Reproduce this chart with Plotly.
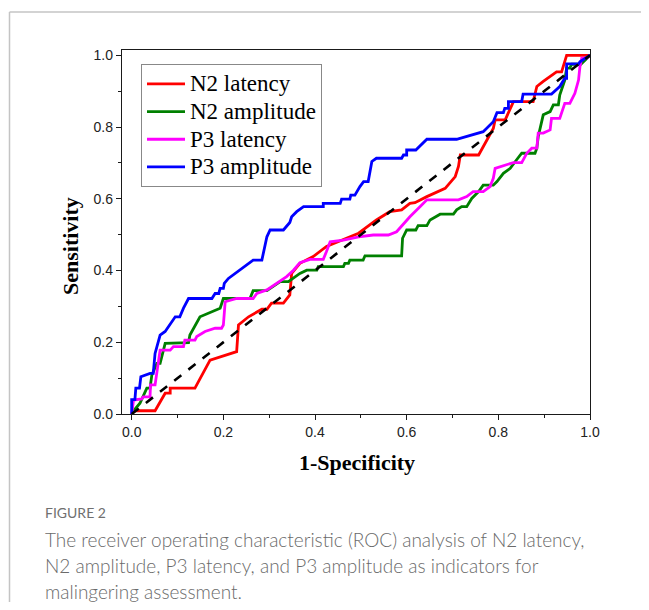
import plotly.graph_objects as go

# ---------------- data ----------------
n2_lat_x = [0, 0.007, 0.051, 0.062, 0.073, 0.084, 0.084, 0.138, 0.167, 0.171, 0.229, 0.233, 0.255, 0.284, 0.295,
            0.305, 0.331, 0.345, 0.349, 0.367, 0.396, 0.425, 0.495, 0.534, 0.563, 0.589, 0.607, 0.618, 0.644,
            0.684, 0.706, 0.713, 0.717, 0.757, 0.789, 0.793, 0.815, 0.829, 0.833, 0.876, 0.884, 0.898, 0.927,
            0.938, 0.949, 0.99, 1.0]
n2_lat_y = [0, 0.009, 0.009, 0.034, 0.058, 0.058, 0.072, 0.072, 0.141, 0.15, 0.174, 0.248, 0.271, 0.292, 0.292,
            0.309, 0.309, 0.332, 0.392, 0.42, 0.439, 0.467, 0.504, 0.541, 0.564, 0.569, 0.587, 0.589, 0.606,
            0.629, 0.662, 0.69, 0.722, 0.722, 0.796, 0.82, 0.82, 0.857, 0.871, 0.871, 0.913, 0.927, 0.954,
            0.954, 1.0, 1.0, 1.0]

n2_amp_x = [0, 0.005, 0.018, 0.029, 0.033, 0.04, 0.044, 0.055, 0.062, 0.073, 0.124, 0.127, 0.149, 0.193, 0.2,
            0.258, 0.265, 0.295, 0.324, 0.342, 0.367, 0.382, 0.404, 0.407, 0.462, 0.465, 0.473, 0.476, 0.505,
            0.509, 0.589, 0.591, 0.6, 0.62, 0.625, 0.644, 0.651, 0.673, 0.702, 0.709, 0.72, 0.731, 0.742, 0.757,
            0.767, 0.789, 0.797, 0.811, 0.826, 0.837, 0.851, 0.88, 0.884, 0.887, 0.898, 0.913, 0.92, 0.931,
            0.934, 0.945, 0.949, 0.956, 0.96, 0.98, 1.0]
n2_amp_y = [0, 0.01, 0.03, 0.062, 0.072, 0.072, 0.109, 0.141, 0.141, 0.197, 0.199, 0.22, 0.271, 0.295, 0.322,
            0.322, 0.344, 0.344, 0.369, 0.369, 0.392, 0.401, 0.401, 0.411, 0.411, 0.42, 0.42, 0.429, 0.429,
            0.441, 0.441, 0.49, 0.513, 0.513, 0.525, 0.525, 0.541, 0.557, 0.557, 0.569, 0.578, 0.578, 0.601, 0.62,
            0.638, 0.638, 0.648, 0.671, 0.685, 0.704, 0.727, 0.727, 0.741, 0.773, 0.834, 0.843, 0.862, 0.862,
            0.889, 0.931, 0.964, 0.964, 0.975, 0.975, 1.0]

p3_lat_x = [0, 0.004, 0.022, 0.025, 0.04, 0.041, 0.051, 0.058, 0.062, 0.084, 0.091, 0.113, 0.116, 0.138, 0.142,
            0.16, 0.182, 0.196, 0.2, 0.204, 0.229, 0.265, 0.273, 0.295, 0.316, 0.338, 0.353, 0.367, 0.389, 0.418,
            0.425, 0.433, 0.462, 0.495, 0.527, 0.56, 0.578, 0.6, 0.607, 0.629, 0.644, 0.713, 0.731, 0.745, 0.767,
            0.782, 0.789, 0.793, 0.833, 0.851, 0.862, 0.873, 0.884, 0.887, 0.898, 0.913, 0.916, 0.934, 0.945,
            0.956, 0.967, 0.975, 0.978, 0.982, 0.993, 1.0]
p3_lat_y = [0, 0.039, 0.042, 0.048, 0.048, 0.081, 0.081, 0.137, 0.178, 0.178, 0.188, 0.188, 0.206, 0.206, 0.216,
            0.23, 0.239, 0.239, 0.248, 0.313, 0.322, 0.322, 0.336, 0.346, 0.364, 0.383, 0.401, 0.422, 0.431, 0.431,
            0.453, 0.48, 0.485, 0.494, 0.499, 0.499, 0.508, 0.541, 0.55, 0.578, 0.597, 0.597, 0.606, 0.62, 0.62,
            0.634, 0.657, 0.685, 0.701, 0.701, 0.727, 0.741, 0.741, 0.783, 0.783, 0.792, 0.824, 0.824, 0.866,
            0.866, 0.894, 0.931, 0.968, 0.992, 0.992, 1.0]

p3_amp_x = [0, 0, 0.007, 0.009, 0.017, 0.02, 0.04, 0.047, 0.051, 0.062, 0.073, 0.095, 0.105, 0.113, 0.124, 0.175,
            0.182, 0.19, 0.193, 0.2, 0.202, 0.211, 0.265, 0.284, 0.295, 0.302, 0.331, 0.345, 0.349, 0.36, 0.375,
            0.418, 0.418, 0.455, 0.458, 0.476, 0.478, 0.487, 0.498, 0.506, 0.516, 0.524, 0.534, 0.589, 0.593,
            0.6, 0.6, 0.62, 0.644, 0.709, 0.767, 0.789, 0.797, 0.811, 0.814, 0.822, 0.822, 0.851, 0.854, 0.916,
            0.934, 0.945, 0.949, 0.949, 0.975, 0.978, 1.0]
p3_amp_y = [0, 0.04, 0.04, 0.072, 0.072, 0.104, 0.113, 0.113, 0.169, 0.22, 0.23, 0.271, 0.271, 0.295, 0.322, 0.322,
            0.336, 0.336, 0.35, 0.35, 0.364, 0.378, 0.429, 0.429, 0.494, 0.513, 0.513, 0.534, 0.55, 0.564, 0.578,
            0.578, 0.587, 0.587, 0.599, 0.599, 0.61, 0.61, 0.634, 0.648, 0.648, 0.704, 0.713, 0.713, 0.722,
            0.722, 0.736, 0.736, 0.766, 0.766, 0.787, 0.815, 0.84, 0.84, 0.852, 0.852, 0.871, 0.871, 0.892, 0.892,
            0.913, 0.936, 0.936, 0.976, 0.976, 0.982, 1.0]

ref_x = [0, 1]
ref_y = [0, 1]

series_names = ["N2 latency", "N2 amplitude", "P3 latency", "P3 amplitude"]
series_colors = ["#ff0000", "#008000", "#ff00ff", "#0000ff"]

tick_vals = [0, 0.2, 0.4, 0.6, 0.8, 1.0]
tick_text = ["0.0", "0.2", "0.4", "0.6", "0.8", "1.0"]

x_title = "1-Specificity"
y_title = "Sensitivity"
fig_label = "FIGURE 2"
caption_lines = [
    "The receiver operating characteristic (ROC) analysis of N2 latency,",
    "N2 amplitude, P3 latency, and P3 amplitude as indicators for",
    "malingering assessment.",
]

# ---------------- layout geometry (page pixels; body has an 8px margin) ----------------
OFF = 8
W, H = 649 - 2 * OFF, 610 - 2 * OFF
L, R, T, B = 122 - OFF, 590 - OFF, 50 - OFF, 414 - OFF  # plot area in figure pixels
pw, ph = R - L, B - T
X0_PAGE, X1_PAGE = 131.7, 590.0   # page x of data 0 and 1
Y0_PAGE, Y1_PAGE = 414.0, 55.3    # page y of data 0 and 1


def px(xpage):
    return (xpage - OFF - L) / pw


def py(ypage):
    return (B - (ypage - OFF)) / ph


fig = go.Figure()

data = [(n2_lat_x, n2_lat_y), (n2_amp_x, n2_amp_y), (p3_lat_x, p3_lat_y), (p3_amp_x, p3_amp_y)]
for (xs, ys), name, col in zip(data, series_names, series_colors):
    fig.add_trace(go.Scatter(x=xs, y=ys, mode="lines",
                             name='<span style="font-size:23px">%s</span>' % name,
                             line=dict(color=col, width=2.8)))

fig.add_trace(go.Scatter(x=ref_x, y=ref_y, mode="lines", showlegend=False,
                         line=dict(color="black", width=2.6, dash="dash")))

axis_common = dict(
    showgrid=False, zeroline=False, showline=True, linecolor="#1a1a1a", linewidth=1.3, mirror=True,
    ticks="outside", ticklen=5, tickwidth=1.2, tickcolor="#1a1a1a",
    tickvals=tick_vals, ticktext=tick_text,
    tickfont=dict(family="Liberation Sans, Arial", size=14, color="#222222"),
    minor=dict(dtick=0.1, tick0=0, ticks="outside", ticklen=3, tickwidth=1, tickcolor="#1a1a1a"),
)

xscale = X1_PAGE - X0_PAGE
yscale = Y0_PAGE - Y1_PAGE
fig.update_xaxes(range=[(L + OFF - X0_PAGE) / xscale, (R + OFF - X0_PAGE) / xscale], **axis_common)
fig.update_yaxes(range=[(Y0_PAGE - (B + OFF)) / yscale, (Y0_PAGE - (T + OFF)) / yscale], **axis_common)

serif = "Liberation Serif, Times New Roman, serif"
cap_font = "Lato, Open Sans, sans-serif"
annotations = [
    dict(text="<b>%s</b>" % x_title, x=px(357), y=py(462), xref="paper", yref="paper",
         showarrow=False, xanchor="center", yanchor="middle",
         font=dict(family=serif, size=22, color="black")),
    dict(text="<b>%s</b>" % y_title, x=px(70), y=py(246), xref="paper", yref="paper",
         showarrow=False, xanchor="center", yanchor="middle", textangle=-90,
         font=dict(family=serif, size=22, color="black")),
    dict(text=fig_label, x=px(43), y=py(512), xref="paper", yref="paper",
         showarrow=False, xanchor="left", yanchor="middle",
         font=dict(family=cap_font, size=14, color="#6f6f6f")),
]
for i, line in enumerate(caption_lines):
    annotations.append(dict(text=line, x=px(43), y=py(539 + i * 26), xref="paper", yref="paper",
                            showarrow=False, xanchor="left", yanchor="middle",
                            font=dict(family=cap_font, size=19, color="#6a6a6a", weight=300)))

shapes = [
    dict(type="line", xref="paper", yref="paper", x0=px(9.5), x1=px(9.5), y0=py(12), y1=py(OFF + H),
         line=dict(color="#c4c4c4", width=1.5)),
    dict(type="line", xref="paper", yref="paper", x0=px(9.5), x1=px(OFF + W), y0=py(12), y1=py(12),
         line=dict(color="#c4c4c4", width=1.5)),
]

fig.update_layout(
    width=W, height=H,
    margin=dict(l=L, r=W - R, t=T, b=H - B, autoexpand=False),
    paper_bgcolor="white", plot_bgcolor="white",
    showlegend=True,
    legend=dict(x=px(141), y=py(64), xanchor="left", yanchor="top",
                bordercolor="#888888", borderwidth=1, bgcolor="white",
                font=dict(family=serif, size=19, color="black"),
                tracegroupgap=0, itemwidth=38),
    annotations=annotations,
    shapes=shapes,
)

fig.write_html("out.html")
